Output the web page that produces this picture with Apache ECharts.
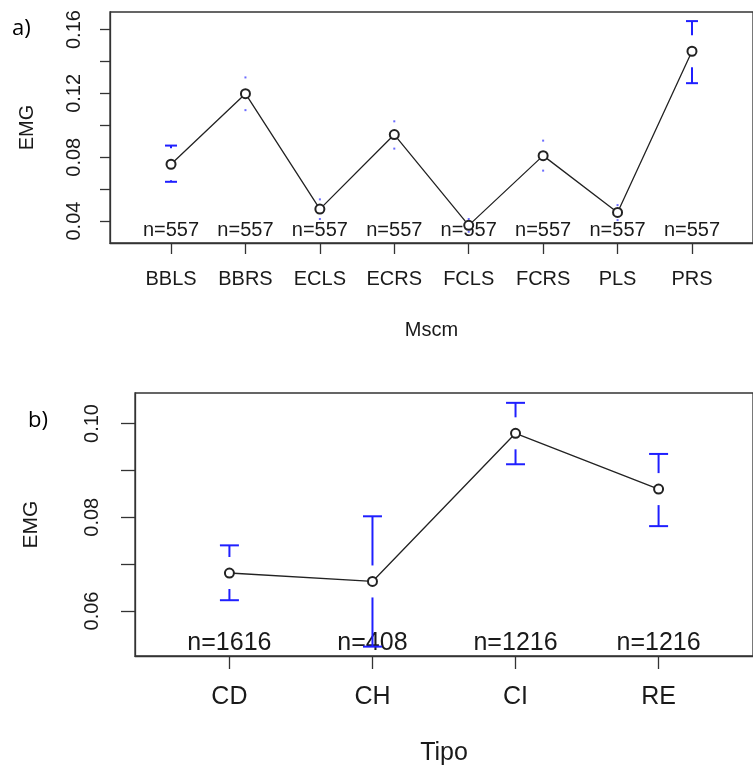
<!DOCTYPE html>
<html><head><meta charset="utf-8">
<script src="https://cdn.jsdelivr.net/npm/echarts@6/dist/echarts.min.js"></script>
<style>html,body{margin:0;padding:0;background:#fff}#c{width:753px;height:767px}</style>
</head><body><div id="c"></div>
<script>
// ---- Panel a) data ----
const catsA  = ['BBLS','BBRS','ECLS','ECRS','FCLS','FCRS','PLS','PRS'];
const meanA  = [0.0756, 0.1198, 0.0475, 0.0942, 0.0373, 0.0810, 0.0454, 0.1464];
const upperA = [0.0873, 0.1300, 0.0536, 0.1025, 0.0413, 0.0904, 0.0500, 0.1653];
const lowerA = [0.0646, 0.1095, 0.0413, 0.0854, 0.0333, 0.0716, 0.0406, 0.1264];
const nA     = [557, 557, 557, 557, 557, 557, 557, 557];
const yTicksA  = [0.04, 0.06, 0.08, 0.10, 0.12, 0.14, 0.16];
const yLabelsA = [0.04, 0.08, 0.12, 0.16];

// ---- Panel b) data ----
const catsB  = ['CD','CH','CI','RE'];
const meanB  = [0.0681, 0.0663, 0.0979, 0.0860];
const upperB = [0.0740, 0.0802, 0.1044, 0.0935];
const lowerB = [0.0623, 0.0524, 0.0913, 0.0781];
const nB     = [1616, 408, 1216, 1216];
const yTicksB  = [0.06, 0.07, 0.08, 0.09, 0.10];
const yLabelsB = [0.06, 0.08, 0.10];

const FONT = 'Liberation Sans, Arial, sans-serif';
const TXT = '#1a1a1a';
const BLUE = '#1f1fff';
const yMinA = 0.02625, yMaxA = 0.171;
const yMinB = 0.0504, yMaxB = 0.1065;
const GAP = 16;

function errRender(capW) {
  return function (params, api) {
    const x = api.value(0), m = api.value(1), lo = api.value(2), hi = api.value(3);
    const pm = api.coord([x, m]);
    const children = [];
    [[api.coord([x, hi]), -1], [api.coord([x, lo]), 1]].forEach(function (e) {
      const pe = e[0], dir = e[1];
      const dist = Math.abs(pe[1] - pm[1]);
      if (dist > GAP + 1) {
        children.push({type:'line', shape:{x1:pm[0], y1:pm[1] + dir*GAP, x2:pe[0], y2:pe[1]},
          style:{stroke:BLUE, lineWidth:2}});
        children.push({type:'line', shape:{x1:pe[0]-capW/2, y1:pe[1], x2:pe[0]+capW/2, y2:pe[1]},
          style:{stroke:BLUE, lineWidth:2}});
      } else {
        children.push({type:'rect', shape:{x:pe[0]-1, y:pe[1]-1, width:2, height:2},
          style:{fill:'#6b6bff'}});
      }
    });
    return {type:'group', children: children};
  };
}
function nRender(size) {
  return function (params, api) {
    const p = api.coord([api.value(0), api.value(1)]);
    return {type:'text', x:p[0], y:p[1]-13,
      style:{text:'n=' + api.value(2), fill:TXT, font: size + 'px ' + FONT, align:'center', verticalAlign:'middle'}};
  };
}

const chart = echarts.init(document.getElementById('c'), null, {renderer:'canvas'});
chart.setOption({
  animation:false,
  backgroundColor:'#fff',
  graphic:[
    {type:'text', left:12, top:18, style:{text:'a)', font:'22px "Open Sans", sans-serif', fill:'#000'}},
    {type:'text', left:28, top:410, style:{text:'b)', font:'22px "Open Sans", sans-serif', fill:'#000'}}
  ],
  grid:[
    {left:110, top:12, right:-10, bottom:524, show:true, borderColor:'#333', borderWidth:1.3},
    {left:135, top:393, right:-5, bottom:110, show:true, borderColor:'#333', borderWidth:1.3}
  ],
  xAxis:[
    {gridIndex:0, type:'value', min:0.18, max:8.82,
     name:'Mscm', nameLocation:'middle', nameGap:77,
     nameTextStyle:{fontFamily:FONT, fontSize:20, color:TXT},
     axisLine:{show:true, lineStyle:{color:'#333', width:1.3}},
     axisTick:{show:true, length:11, lineStyle:{color:'#333', width:1.3}, customValues: catsA.map((c,i)=>i+1)},
     axisLabel:{show:true, margin:26, fontFamily:FONT, fontSize:20, color:TXT,
       customValues: catsA.map((c,i)=>i+1), formatter: v => catsA[Math.round(v)-1]},
     splitLine:{show:false}},
    {gridIndex:1, type:'value', min:0.34, max:4.66,
     name:'Tipo', nameLocation:'middle', nameGap:85,
     nameTextStyle:{fontFamily:FONT, fontSize:25, color:TXT},
     axisLine:{show:true, lineStyle:{color:'#333', width:1.3}},
     axisTick:{show:true, length:13, lineStyle:{color:'#333', width:1.3}, customValues: catsB.map((c,i)=>i+1)},
     axisLabel:{show:true, margin:29, fontFamily:FONT, fontSize:25, color:TXT,
       customValues: catsB.map((c,i)=>i+1), formatter: v => catsB[Math.round(v)-1]},
     splitLine:{show:false}}
  ],
  yAxis:[
    {gridIndex:0, type:'value', min:yMinA, max:yMaxA,
     name:'EMG', nameLocation:'middle', nameGap:73,
     nameTextStyle:{fontFamily:FONT, fontSize:20, color:TXT},
     axisLine:{show:true, lineStyle:{color:'#333', width:1.3}},
     axisTick:{show:true, length:10, lineStyle:{color:'#333', width:1.3}, customValues: yTicksA},
     axisLabel:{show:true, rotate:90, margin:26, fontFamily:FONT, fontSize:20, color:TXT,
       customValues: yLabelsA, formatter: v => v.toFixed(2)},
     splitLine:{show:false}},
    {gridIndex:1, type:'value', min:yMinB, max:yMaxB,
     name:'EMG', nameLocation:'middle', nameGap:93,
     nameTextStyle:{fontFamily:FONT, fontSize:21, color:TXT},
     axisLine:{show:true, lineStyle:{color:'#333', width:1.3}},
     axisTick:{show:true, length:14, lineStyle:{color:'#333', width:1.3}, customValues: yTicksB},
     axisLabel:{show:true, rotate:90, margin:33, fontFamily:FONT, fontSize:20, color:TXT,
       customValues: yLabelsB, formatter: v => v.toFixed(2)},
     splitLine:{show:false}}
  ],
  series:[
    {type:'custom', xAxisIndex:0, yAxisIndex:0, renderItem: nRender(20), clip:false, z:1,
     data: nA.map((n,i)=>[i+1, yMinA, n]), encode:{x:0, y:1}},
    {type:'custom', xAxisIndex:0, yAxisIndex:0, renderItem: errRender(12), clip:true, z:2,
     data: meanA.map((m,i)=>[i+1, m, lowerA[i], upperA[i]]), encode:{x:0, y:1}},
    {type:'line', xAxisIndex:0, yAxisIndex:0, z:3,
     data: meanA.map((m,i)=>[i+1, m]),
     showSymbol:true, symbol:'emptyCircle', symbolSize:9,
     lineStyle:{color:'#222', width:1.3},
     itemStyle:{color:'#222', borderColor:'#222', borderWidth:1.3}},

    {type:'custom', xAxisIndex:1, yAxisIndex:1, renderItem: nRender(25), clip:false, z:1,
     data: nB.map((n,i)=>[i+1, yMinB, n]), encode:{x:0, y:1}},
    {type:'custom', xAxisIndex:1, yAxisIndex:1, renderItem: errRender(19), clip:true, z:2,
     data: meanB.map((m,i)=>[i+1, m, lowerB[i], upperB[i]]), encode:{x:0, y:1}},
    {type:'line', xAxisIndex:1, yAxisIndex:1, z:3,
     data: meanB.map((m,i)=>[i+1, m]),
     showSymbol:true, symbol:'emptyCircle', symbolSize:9,
     lineStyle:{color:'#222', width:1.3},
     itemStyle:{color:'#222', borderColor:'#222', borderWidth:1.3}}
  ]
});
</script></body></html>
